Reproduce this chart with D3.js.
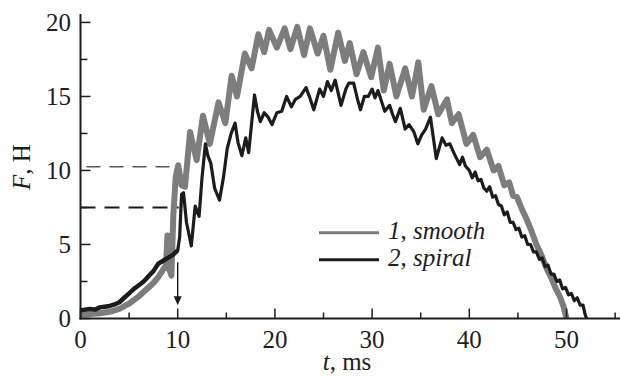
<!DOCTYPE html>
<html>
<head>
<meta charset="utf-8">
<script src="https://cdn.jsdelivr.net/npm/d3@7"></script>
<style>
  html, body { margin: 0; padding: 0; background: #fff; }
  svg { display: block; }
  text { font-family: "Liberation Serif", "Times New Roman", serif; fill: #1e1e1e; }
</style>
</head>
<body>
<svg id="chart" width="621" height="376"></svg>
<script>
// ---- data ----
const smoothT = [0, 1, 2, 3, 4, 5, 6, 7, 7.5, 8, 8.5, 8.8, 8.95, 9.1, 9.35, 9.55, 9.8, 10.05, 10.4, 10.75,
  11.27, 11.95, 12.6, 13.3, 14.2, 14.9, 15.55, 16.1, 16.9, 17.6, 18.3, 18.9, 19.4, 20.2, 21.0, 21.6,
  22.3, 23.0, 23.6, 24.4, 25.0, 25.7, 26.5, 27.2, 27.7, 28.4, 29.1, 29.9, 30.6, 31.2, 31.8, 32.5,
  33.4, 34.1, 34.75, 35.3, 36.1, 36.8, 37.7, 38.2, 38.9, 39.7, 40.4, 41.1, 41.8, 42.5, 43.0, 43.6,
  44.1, 44.5, 44.9, 45.4, 45.9, 46.4, 46.9, 47.4, 48.0, 48.4, 48.8, 49.3, 49.7, 50.0];
const smoothF = [0.25, 0.3, 0.35, 0.45, 0.65, 1.0, 1.5, 2.1, 2.4, 2.8, 3.3, 3.6, 5.6, 3.4, 2.9, 7.0, 9.6, 10.35, 9.0, 8.9,
  12.6, 10.7, 13.7, 11.8, 14.6, 13.2, 16.4, 15.0, 17.9, 16.9, 19.2, 18.0, 19.5, 18.3, 19.6, 18.2,
  19.7, 17.8, 19.6, 17.9, 19.1, 16.8, 19.3, 17.4, 18.6, 16.5, 18.0, 16.3, 18.3, 15.4, 17.2, 15.0,
  16.9, 15.0, 17.3, 14.1, 15.7, 13.8, 14.8, 13.2, 13.8, 11.8, 12.4, 10.9, 11.4, 10.0, 10.3, 9.0,
  9.2, 8.3, 8.2, 7.4, 6.7, 5.9, 5.0, 4.3, 3.3, 2.8, 2.15, 1.5, 0.8, 0];

const spiralT = [0, 0.5, 1, 1.5, 2, 2.5, 3, 3.5, 4, 4.5, 5, 5.5, 6, 6.5, 7, 7.5, 8, 8.5, 9, 9.5, 10,
  10.2, 10.4, 10.6, 10.9, 11.4, 11.8, 12.2, 12.5, 12.85, 13.1, 13.4, 13.8, 14.3, 14.7, 15.1, 15.5,
  15.9, 16.2, 16.6, 17.0, 17.3, 17.9, 18.2, 18.5, 18.9, 19.3, 19.7, 20.2, 20.7, 21.2, 21.7, 22.1, 22.6,
  23.2, 23.6, 24.0, 24.3, 24.6, 25.0, 25.4, 25.8, 26.2, 26.8, 27.3, 27.6, 28.1, 28.5, 28.8, 29.2, 29.6, 30.0, 30.3, 30.6,
  31.0, 31.3, 31.8, 32.1, 32.4, 32.9, 33.4, 33.8, 34.3, 34.7, 35.1, 35.5, 36.0, 36.6, 37.2, 37.6,
  38.0, 38.4, 38.7, 39.0, 39.3, 39.6, 40.0, 40.3, 40.6, 40.9, 41.2, 41.5, 41.8, 42.1, 42.4, 42.7,
  43.0, 43.3, 43.6, 43.9, 44.2, 44.5, 44.8, 45.1, 45.4, 45.7, 46.0, 46.3, 46.6, 46.9, 47.2, 47.5,
  47.8, 48.1, 48.4, 48.7, 49.0, 49.3, 49.6, 49.9, 50.2, 50.5, 50.8, 51.1, 51.4, 51.7, 51.9, 52.05];
const spiralF = [0.55, 0.6, 0.65, 0.6, 0.75, 0.8, 0.85, 0.95, 1.1, 1.4, 1.7, 2.0, 2.25, 2.5, 2.85, 3.2, 3.7, 3.9, 4.1, 4.3, 4.6,
  5.5, 8.4, 8.5, 6.5, 4.9, 7.6, 6.9, 9.5, 11.8, 11.0, 10.5, 8.8, 8.0, 9.5, 11.5, 12.5,
  13.2, 11.9, 11.0, 12.2, 11.2, 15.1, 14.0, 13.3, 13.9, 13.6, 13.1, 13.9, 14.0, 15.0, 14.3, 14.8, 15.0,
  15.6, 14.9, 14.1, 14.8, 15.5, 15.0, 16.0, 15.4, 16.1, 14.4, 15.5, 15.9, 15.9, 14.8, 14.1, 15.0, 15.0, 15.5, 14.9, 15.4,
  14.6, 14.0, 14.4, 13.8, 13.3, 14.2, 12.8, 13.1, 12.6, 11.8, 12.4, 12.8, 13.6, 10.8, 12.2, 11.7,
  11.8, 11.2, 10.8, 10.4, 10.9, 10.3, 10.0, 9.5, 9.9, 9.3, 9.4, 8.8, 8.6, 8.9, 8.2, 8.3,
  7.7, 7.6, 7.0, 7.2, 6.5, 6.5, 6.0, 6.1, 5.5, 5.6, 5.0, 5.0, 4.5, 4.5, 4.0, 4.1,
  3.5, 3.6, 3.0, 3.0, 2.5, 2.6, 2.0, 2.1, 1.6, 1.7, 1.2, 1.4, 0.9, 0.9, 0.3, 0];

const xTicks = [0, 5, 10, 15, 20, 25, 30, 35, 40, 45, 50, 55];
const xLabels = [0, 10, 20, 30, 40, 50];
const yTicks = [0, 2.5, 5, 7.5, 10, 12.5, 15, 17.5, 20];
const yLabels = [0, 5, 10, 15, 20];
const dashLevels = [10.25, 7.5];      // F levels of the dashed guides
const dashEnds = [9.6, 10.1];         // t where they stop
const arrowT = 10, arrowFrom = 3.8, arrowTo = 0.9;
const legendNames = ["smooth", "spiral"];
const legendNums = ["1", "2"];

// ---- drawing ----
const svg = d3.select("#chart");
const x = d3.scaleLinear().domain([0, 55.5]).range([80.5, 620]);
const y = d3.scaleLinear().domain([0, 20.57]).range([318.5, 14]);

const GRAY = "#7d7d7d", BLACK = "#1c1c1c";

// dashed guides
svg.append("line").attr("x1", x(0)).attr("x2", x(dashEnds[0]))
  .attr("y1", y(dashLevels[0])).attr("y2", y(dashLevels[0]))
  .attr("stroke", "#555").attr("stroke-width", 1.5).attr("stroke-dasharray", "14,9")
  .attr("stroke-dashoffset", -6);
svg.append("line").attr("x1", x(0)).attr("x2", x(dashEnds[1]))
  .attr("y1", y(dashLevels[1])).attr("y2", y(dashLevels[1]))
  .attr("stroke", BLACK).attr("stroke-width", 2).attr("stroke-dasharray", "15,9");

const line = d3.line().x(d => x(d[0])).y(d => y(d[1]));
const smooth = smoothT.map((t, i) => [t, smoothF[i]]);
const spiral = spiralT.map((t, i) => [t, spiralF[i]]);

svg.append("path").datum(smooth).attr("d", line)
  .attr("fill", "none").attr("stroke", GRAY).attr("stroke-width", 6).attr("stroke-linejoin", "round");
svg.append("path").datum(spiral).attr("d", line)
  .attr("fill", "none").attr("stroke", BLACK).attr("stroke-width", 3.2).attr("stroke-linejoin", "round");
// early part of curve 2 is noisier, so it looks thicker
svg.append("path").datum(spiral.filter(d => d[0] <= 10)).attr("d", line)
  .attr("fill", "none").attr("stroke", BLACK).attr("stroke-width", 4.5).attr("stroke-linejoin", "round");

// arrow
svg.append("line").attr("x1", x(arrowT)).attr("x2", x(arrowT))
  .attr("y1", y(arrowFrom)).attr("y2", y(arrowTo) - 6)
  .attr("stroke", BLACK).attr("stroke-width", 1.4);
svg.append("path")
  .attr("d", `M${x(arrowT) - 4},${y(arrowTo) - 9} L${x(arrowT) + 4},${y(arrowTo) - 9} L${x(arrowT)},${y(arrowTo)} Z`)
  .attr("fill", BLACK);

// axes
const AX = "#1e1e1e";
svg.append("line").attr("x1", x(0)).attr("x2", x(0)).attr("y1", y(20.57)).attr("y2", y(0) + 1)
  .attr("stroke", AX).attr("stroke-width", 2);
svg.append("line").attr("x1", x(0) - 1).attr("x2", x(55.5)).attr("y1", y(0)).attr("y2", y(0))
  .attr("stroke", AX).attr("stroke-width", 2);

xTicks.forEach(t => {
  const major = xLabels.includes(t);
  svg.append("line").attr("x1", x(t)).attr("x2", x(t))
    .attr("y1", y(0)).attr("y2", y(0) - (major ? 10 : 6))
    .attr("stroke", AX).attr("stroke-width", 1.5);
});
yTicks.forEach(v => {
  const major = yLabels.includes(v);
  svg.append("line").attr("x1", x(0)).attr("x2", x(0) + (major ? 10 : 7))
    .attr("y1", y(v)).attr("y2", y(v))
    .attr("stroke", AX).attr("stroke-width", 1.5);
});

svg.selectAll(".xl").data(xLabels).enter().append("text")
  .attr("x", d => x(d)).attr("y", 348).attr("text-anchor", "middle")
  .attr("font-size", 25).text(d => d);
svg.selectAll(".yl").data(yLabels).enter().append("text")
  .attr("x", 71).attr("y", d => y(d) + 8.5).attr("text-anchor", "end")
  .attr("font-size", 25).text(d => d);

// axis titles
const xt = svg.append("text").attr("x", 347).attr("y", 370).attr("text-anchor", "middle").attr("font-size", 25);
xt.append("tspan").attr("font-style", "italic").text("t");
xt.append("tspan").text(", ms");

const yt = svg.append("text").attr("transform", "translate(30,167) rotate(-90)")
  .attr("text-anchor", "middle").attr("font-size", 25);
yt.append("tspan").attr("font-style", "italic").text("F");
yt.append("tspan").text(", H");

// legend
const legY = [232.7, 259.7];
const legColors = [GRAY, BLACK];
legendNames.forEach((name, i) => {
  svg.append("line").attr("x1", 319).attr("x2", 379).attr("y1", legY[i]).attr("y2", legY[i])
    .attr("stroke", legColors[i]).attr("stroke-width", 3);
  const tx = svg.append("text").attr("x", 388).attr("y", legY[i] + 6.5).attr("font-size", 25);
  tx.append("tspan").attr("font-style", "italic").text(legendNums[i]);
  tx.append("tspan").text(", ");
  tx.append("tspan").attr("font-style", "italic").text(name);
});
</script>
</body>
</html>
